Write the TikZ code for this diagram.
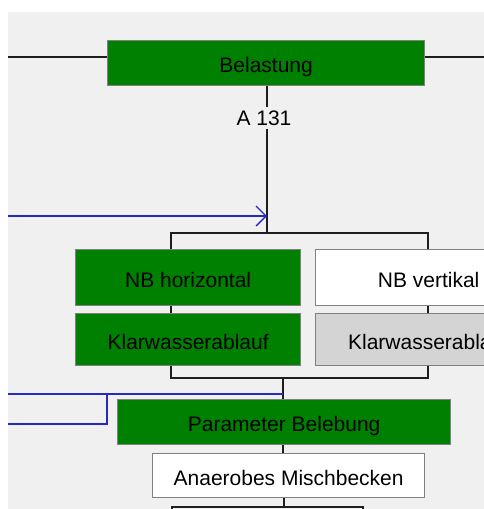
\documentclass[tikz,border=0pt]{standalone}
\usepackage{fontspec}
\setmainfont{Liberation Sans}
\usetikzlibrary{arrows.meta}
\definecolor{bg}{HTML}{F0F0F0}
\definecolor{gbox}{HTML}{008000}
\definecolor{grbox}{HTML}{D4D4D4}
\definecolor{bord}{HTML}{808080}
\definecolor{lin}{HTML}{1E1E1E}
\definecolor{blu}{HTML}{2828C8}
\begin{document}
\begin{tikzpicture}[x=1pt,y=-1pt,
  boxbase/.style={draw=bord,line width=1.3pt,inner sep=0pt,anchor=north west,
    font=\fontsize{21}{25}\selectfont,text=black,text height=19pt,text depth=0pt},
  gbx/.style={boxbase,fill=gbox},
  wbx/.style={boxbase,fill=white},
  lbx/.style={boxbase,fill=grbox},
  ln/.style={draw=lin,line width=1.6pt},
  bl/.style={draw=blu,line width=1.3pt}]
\useasboundingbox (0,0) rectangle (484,509);
\clip (0,0) rectangle (484,509);
\fill[white] (0,0) rectangle (484,509);
\fill[bg] (8,12) rectangle (484,509);

% boxes
\node[gbx,minimum width=317pt,minimum height=45pt] (bel) at (107,40) {Belastung};
\node[gbx,minimum width=225pt,minimum height=56pt] (nbh) at (75,249) {NB horizontal};
\node[wbx,minimum width=226pt,minimum height=56pt] (nbv) at (315,249) {NB vertikal};
\node[gbx,minimum width=225pt,minimum height=52pt] (kh) at (75,313) {Klarwasserablauf};
\node[lbx,minimum width=226pt,minimum height=52pt] (kv) at (315,313) {Klarwasserablauf};
\node[gbx,minimum width=333pt,minimum height=45pt] (par) at (117,399) {Parameter Belebung};
\node[wbx,minimum width=272pt,minimum height=44pt] (ana) at (152,453) {Anaerobes Mischbecken};
\node[font=\fontsize{21}{25}\selectfont,inner sep=3pt] (a131) at (264,118) {A 131};

% top horizontal line
\coordinate (lL) at (8,57);
\coordinate (lR) at (484,57);
\draw[ln] (lL) -- (lL -| bel.west);
\draw[ln] (bel.east |- lR) -- (lR);

% vertical trunk
\coordinate (vx) at (267,233);
\draw[ln] (vx |- bel.south) -- (vx |- a131.north);
\draw[ln] (vx |- a131.south) -- (vx);

% blue arrow
\coordinate (bL) at (8,216);
\draw[bl,-{Straight Barb[length=10pt,width=20pt,line width=1.3pt]}] (bL) -- (vx |- bL);

% top bracket
\coordinate (b1) at (171,233);
\coordinate (b2) at (428,233);
\draw[ln] (b1 |- nbh.north) -- (b1) -- (b2) -- (b2 |- nbv.north);
\draw[ln] (b1 |- nbh.south) -- (b1 |- kh.north);
\draw[ln] (b2 |- nbv.south) -- (b2 |- kv.north);

% bottom bracket
\coordinate (c1) at (171,378);
\coordinate (c2) at (428,378);
\coordinate (cm) at (283,378);
\draw[ln] (c1 |- kh.south) -- (c1) -- (c2) -- (c2 |- kv.south);
\draw[ln] (cm) -- (cm |- par.north);

% blue lines left
\coordinate (u1) at (8,394);
\coordinate (u2) at (107,394);
\coordinate (u3) at (107,424);
\coordinate (u4) at (8,424);
\draw[bl] (u1) -- (cm |- u1);
\draw[bl] (u2) -- (u3) -- (u4);

% lower
\draw[ln] (cm |- par.south) -- (cm |- ana.north);
\coordinate (d1) at (172,507);
\coordinate (d2) at (363,507);
\coordinate (dm) at (284,507);
\draw[ln] (dm |- ana.south) -- (dm);
\draw[ln] (172,520) -- (d1) -- (d2) -- (363,520);
\end{tikzpicture}
\end{document}
